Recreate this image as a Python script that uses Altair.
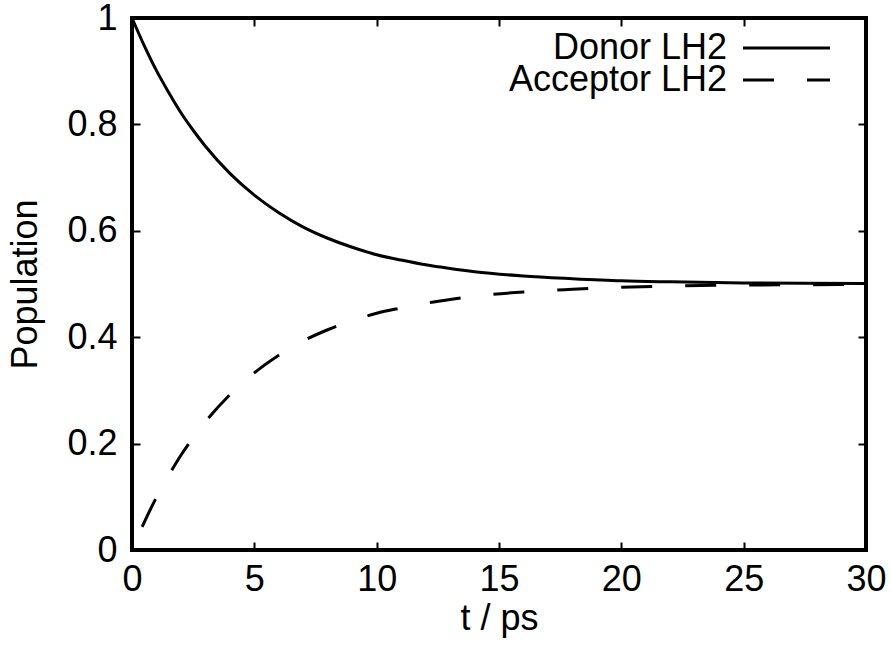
import altair as alt
import pandas as pd

# Populations of the two LH2 rings versus time
t_ps = [0, 0.5, 1, 1.5, 2, 2.5, 3, 4, 5, 6, 7, 8, 9, 10, 11, 12, 13, 14, 16, 18, 20, 22, 25, 30]
donor_lh2 = [1.0, 0.948, 0.901, 0.860, 0.822, 0.789, 0.759, 0.708, 0.667, 0.634, 0.607,
             0.586, 0.569, 0.555, 0.545, 0.536, 0.529, 0.523, 0.515, 0.510, 0.506, 0.504,
             0.502, 0.501]
acceptor_lh2 = [0.0, 0.052, 0.099, 0.140, 0.178, 0.211, 0.241, 0.292, 0.333, 0.366, 0.393,
                0.414, 0.431, 0.445, 0.455, 0.464, 0.471, 0.477, 0.485, 0.490, 0.494, 0.496,
                0.498, 0.499]

x_ticks = [0, 5, 10, 15, 20, 25, 30]
y_ticks = [0, 0.2, 0.4, 0.6, 0.8, 1]
series_names = ["Donor LH2", "Acceptor LH2"]

FONT = "Liberation Sans"
FS = 36
TICK = 8
DASH = [31, 33]

df = pd.DataFrame({"t": t_ps, "donor": donor_lh2, "acceptor": acceptor_lh2})

x_scale = alt.Scale(domain=[0, 30], nice=False, zero=False)
y_scale = alt.Scale(domain=[0, 1], nice=False)

common_axis = dict(domain=False, grid=False, tickSize=TICK, tickWidth=2,
                   tickColor="black", offset=-TICK, labelFlush=False)

# labelled axes (ticks pushed inside the frame via a negative offset)
x_main = alt.Axis(orient="bottom", values=x_ticks, format="d",
                  labelFont=FONT, labelFontSize=FS, labelColor="black",
                  labelPadding=12, labelBaseline="top",
                  title="t / ps", titleFont=FONT, titleFontSize=FS,
                  titleFontWeight="normal", titleColor="black",
                  titleX=367, titleY=79 + TICK, titleBaseline="alphabetic",
                  titleAlign="center", **common_axis)
y_main = alt.Axis(orient="left", values=y_ticks, format="~g",
                  labelFont=FONT, labelFontSize=FS, labelColor="black",
                  labelPadding=15,
                  title="Population", titleFont=FONT, titleFontSize=FS,
                  titleFontWeight="normal", titleColor="black",
                  titleAngle=270, titleX=36 - 132 - TICK, titleY=266,
                  titleBaseline="alphabetic", titleAlign="center", **common_axis)

# mirrored tick-only axes on the top and right edges
x_top = alt.Axis(orient="top", values=x_ticks, labels=False, title="", **common_axis)
y_right = alt.Axis(orient="right", values=y_ticks, labels=False, title="", **common_axis)

donor_line = alt.Chart(df).mark_line(
    color="black", strokeWidth=3, interpolate="monotone"
).encode(
    x=alt.X("t:Q", scale=x_scale, axis=x_main),
    y=alt.Y("donor:Q", scale=y_scale, axis=y_main),
)

acceptor_line = alt.Chart(df).mark_line(
    color="black", strokeWidth=3, interpolate="monotone",
    strokeDash=DASH, strokeDashOffset=39
).encode(
    x=alt.X("t:Q", scale=x_scale, axis=x_top),
    y=alt.Y("acceptor:Q", scale=y_scale, axis=y_right),
)

# key in the upper right: label followed by a line sample
one_row = alt.Data(values=[{}])
key_rows_y = [30, 62]
key_text_x = 595
key_line_x = (611, 698)

key_layers = []
for name, ky, dash in zip(series_names, key_rows_y, [None, DASH]):
    key_layers.append(
        alt.Chart(one_row).mark_text(
            text=name, font=FONT, fontSize=FS, color="black",
            align="right", baseline="middle"
        ).encode(x=alt.value(key_text_x), y=alt.value(ky))
    )
    rule_kwargs = dict(color="black", strokeWidth=3)
    if dash is not None:
        rule_kwargs["strokeDash"] = dash
    key_layers.append(
        alt.Chart(one_row).mark_rule(**rule_kwargs).encode(
            x=alt.value(key_line_x[0]), x2=alt.value(key_line_x[1]),
            y=alt.value(ky)
        )
    )

chart = alt.layer(donor_line, acceptor_line, *key_layers).resolve_axis(
    x="independent", y="independent"
).properties(
    width=734, height=532,
    autosize=alt.AutoSizeParams(type="none"),
    padding={"left": 132, "top": 18, "right": 25, "bottom": 98},
    background="white",
).configure_view(stroke="black", strokeWidth=4)

chart.save("out.html", embed_options={"renderer": "svg", "actions": False})
